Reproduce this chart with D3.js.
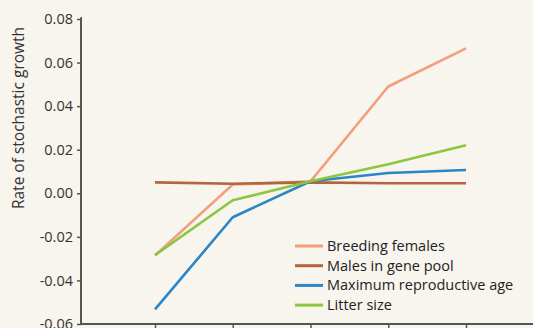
<!DOCTYPE html>
<html>
<head>
<meta charset="utf-8">
<script src="https://cdn.jsdelivr.net/npm/d3@7"></script>
<style>
  html, body { margin: 0; padding: 0; background: #f8f4ee; }
  svg { display: block; font-family: "Open Sans", "Noto Sans", sans-serif; }
</style>
</head>
<body>
<svg id="chart" width="533" height="328"></svg>
<script>
// Scenario levels along the x axis (labels not shown)
const levels = [1, 2, 3, 4, 5];

const breedingFemales = [-0.0285, 0.0040, 0.0055, 0.0490, 0.0665];
const malesInGenePool = [0.0050, 0.0044, 0.0050, 0.0046, 0.0046];
const maxReproductiveAge = [-0.0533, -0.0110, 0.0055, 0.0093, 0.0107];
const litterSize = [-0.0284, -0.0032, 0.0055, 0.0133, 0.0220];

const seriesNames = ["Breeding females", "Males in gene pool", "Maximum reproductive age", "Litter size"];
const seriesColors = ["#f1a07c", "#b5643e", "#2a86c6", "#8dc63f"];
const yTicks = [-0.06, -0.04, -0.02, 0.00, 0.02, 0.04, 0.06, 0.08];

const seriesValues = [breedingFemales, malesInGenePool, maxReproductiveAge, litterSize];

const svg = d3.select("#chart");
const axisX0 = 81, axisX1 = 533, axisY = 324, topY = 19;

const x = d3.scaleLinear().domain([1, 5]).range([155, 466]);
const y = d3.scaleLinear().domain([-0.06, 0.08]).range([axisY, topY]);

// Y axis, labels with a plain hyphen for negatives
const yAxis = d3.axisLeft(y)
  .tickValues(yTicks)
  .tickSize(4)
  .tickFormat(d => d3.format(".2f")(d).replace("\u2212", "-"));
const gy = svg.append("g").attr("transform", `translate(${axisX0},0)`).call(yAxis);
gy.select(".domain").attr("d", `M-0.5,${topY - 1}H0V${axisY}`)
  .attr("stroke", "#555").attr("stroke-width", 2);
gy.selectAll(".tick line").attr("stroke", "#555").attr("stroke-width", 1.5);
gy.selectAll(".tick text").attr("font-size", 14.5).attr("fill", "#333")
  .attr("font-family", "'Open Sans', sans-serif").attr("x", -8);

// X axis
const xAxis = d3.axisBottom(x).tickValues(levels).tickSize(6).tickFormat("");
const gx = svg.append("g").attr("transform", `translate(0,${axisY})`).call(xAxis);
gx.select(".domain").attr("d", `M${axisX0},0H${axisX1}`)
  .attr("stroke", "#555").attr("stroke-width", 2);
gx.selectAll(".tick line").attr("stroke", "#555").attr("stroke-width", 1.5);

// Y axis title
svg.append("text")
  .attr("transform", "translate(24,118) rotate(-90)")
  .attr("text-anchor", "middle")
  .attr("font-size", 15.5)
  .attr("fill", "#333")
  .text("Rate of stochastic growth");

// Series lines
const line = d3.line().x((d, i) => x(levels[i])).y(d => y(d));
seriesValues.forEach((vals, k) => {
  svg.append("path")
    .datum(vals)
    .attr("d", line)
    .attr("fill", "none")
    .attr("stroke", seriesColors[k])
    .attr("stroke-width", 2.6)
    .attr("stroke-linejoin", "round");
});

// Legend
const legend = svg.append("g").attr("transform", "translate(295,246)");
seriesNames.forEach((name, k) => {
  const g = legend.append("g").attr("transform", `translate(0,${k * 19.7})`);
  g.append("line").attr("x1", 0).attr("x2", 28).attr("y1", 0).attr("y2", 0)
    .attr("stroke", seriesColors[k]).attr("stroke-width", 3);
  g.append("text").attr("x", 32).attr("y", 0).attr("dy", "0.35em")
    .attr("font-size", 14.5).attr("fill", "#222").text(name);
});
</script>
</body>
</html>
